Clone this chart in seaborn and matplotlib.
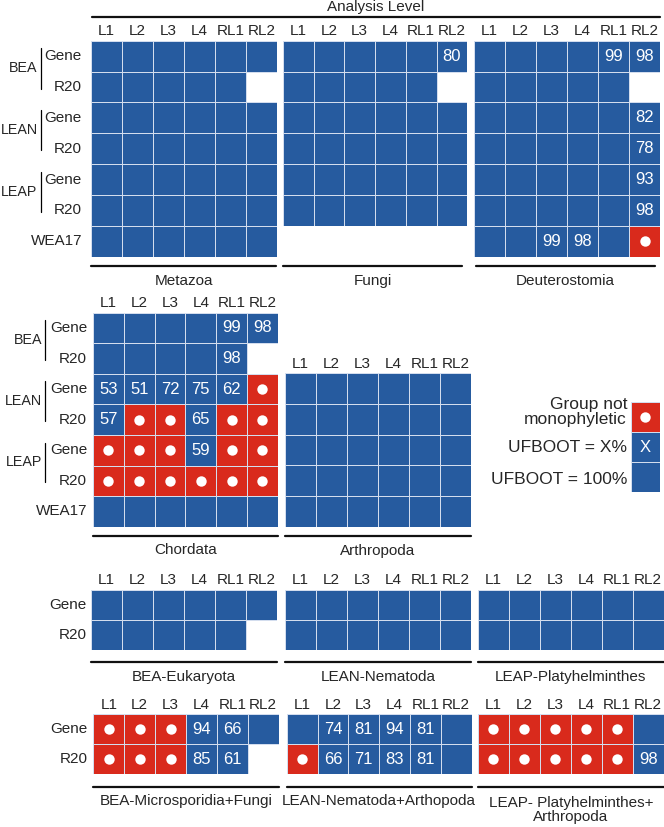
import numpy as np
import matplotlib
matplotlib.use("Agg")
import matplotlib.pyplot as plt
from matplotlib.colors import ListedColormap
from matplotlib.lines import Line2D
import seaborn as sns

sns.set_style("white")
plt.rcParams["font.family"] = ["Liberation Sans", "DejaVu Sans"]

# cell codes: "" = UFBOOT 100, digits = UFBOOT value, "o" = group not monophyletic, None = no result
levels = ["L1", "L2", "L3", "L4", "RL1", "RL2"]
full_rows = ["Gene", "R20", "Gene", "R20", "Gene", "R20", "WEA17"]
pair_rows = ["Gene", "R20"]
groups = ["BEA", "LEAN", "LEAP"]

metazoa = [
    ["", "", "", "", "", ""],
    ["", "", "", "", "", None],
    ["", "", "", "", "", ""],
    ["", "", "", "", "", ""],
    ["", "", "", "", "", ""],
    ["", "", "", "", "", ""],
    ["", "", "", "", "", ""],
]
fungi = [
    ["", "", "", "", "", "80"],
    ["", "", "", "", "", None],
    ["", "", "", "", "", ""],
    ["", "", "", "", "", ""],
    ["", "", "", "", "", ""],
    ["", "", "", "", "", ""],
]
deuterostomia = [
    ["", "", "", "", "99", "98"],
    ["", "", "", "", "", None],
    ["", "", "", "", "", "82"],
    ["", "", "", "", "", "78"],
    ["", "", "", "", "", "93"],
    ["", "", "", "", "", "98"],
    ["", "", "99", "98", "", "o"],
]
chordata = [
    ["", "", "", "", "99", "98"],
    ["", "", "", "", "98", None],
    ["53", "51", "72", "75", "62", "o"],
    ["57", "o", "o", "65", "o", "o"],
    ["o", "o", "o", "59", "o", "o"],
    ["o", "o", "o", "o", "o", "o"],
    ["", "", "", "", "", ""],
]
arthropoda = [
    ["", "", "", "", "", ""],
    ["", "", "", "", "", ""],
    ["", "", "", "", "", ""],
    ["", "", "", "", "", ""],
    ["", "", "", "", "", ""],
]
bea_eukaryota = [["", "", "", "", "", ""], ["", "", "", "", "", None]]
lean_nematoda = [["", "", "", "", "", ""], ["", "", "", "", "", ""]]
leap_platyhelminthes = [["", "", "", "", "", ""], ["", "", "", "", "", ""]]
bea_micro_fungi = [["o", "o", "o", "94", "66", ""], ["o", "o", "o", "85", "61", None]]
lean_nem_arth = [["", "74", "81", "94", "81", ""], ["o", "66", "71", "83", "81", ""]]
leap_platy_arth = [["o", "o", "o", "o", "o", ""], ["o", "o", "o", "o", "o", "98"]]

legend_cells = [["o"], ["X"], [""]]
legend_text = ["Group not\nmonophyletic", "UFBOOT = X%", "UFBOOT = 100%"]

BLUE = "#265b9f"
RED = "#d92a1c"
cmap = ListedColormap([BLUE, RED])

W, H = 664, 827
fig = plt.figure(figsize=(W / 100, H / 100), dpi=100)
fig.patch.set_facecolor("white")


def draw_panel(cells, left, top, rh, cw=31, rows=None, xlabels=levels, pad=5):
    nr, nc = len(cells), len(cells[0])
    ax = fig.add_axes([left / W, 1 - (top + nr * rh) / H, nc * cw / W, nr * rh / H])
    status = np.array([[np.nan if c is None else (2.0 if c == "o" else 1.0) for c in r] for r in cells])
    annot = np.array([["" if c in (None, "o") else c for c in r] for r in cells])
    sns.heatmap(status, ax=ax, mask=np.isnan(status), cmap=cmap, vmin=0.5, vmax=2.5,
                cbar=False, linewidths=0.5, linecolor="#d3ddee",
                annot=annot, fmt="", annot_kws={"color": "white", "fontsize": 12},
                xticklabels=xlabels if xlabels else False,
                yticklabels=rows if rows else False)
    ri, ci = np.where(status == 2)
    ax.scatter(ci + 0.5, ri + 0.5, s=56, color="white", linewidths=0, zorder=3)
    ax.xaxis.tick_top()
    ax.tick_params(length=0, labelsize=11)
    ax.tick_params(axis="x", pad=2, labelrotation=0)
    ax.tick_params(axis="y", pad=pad, labelrotation=0)
    return ax


def add_groups(ax, width_px, text_off, bar_off):
    tr = ax.get_yaxis_transform()
    for g, name in enumerate(groups):
        y0 = 2 * g
        ax.text(-text_off / width_px, y0 + 0.9, name, transform=tr, ha="right",
                va="center", fontsize=10.3)
        ax.plot([-bar_off / width_px] * 2, [y0 + 0.25, y0 + 1.55], transform=tr,
                clip_on=False, color="black", lw=0.9)


def underline(left, right, y, label, dy=14.5, linespacing=0.95):
    fig.add_artist(Line2D([left / W, right / W], [1 - y / H] * 2, color="#111111", lw=1.6))
    fig.text((left + right) / 2 / W, 1 - (y + dy) / H, label, ha="center", va="center",
             fontsize=11, linespacing=linespacing, multialignment="center")


# header
fig.text(376 / W, 1 - 11 / H, "Analysis Level", ha="center", va="baseline", fontsize=11)
fig.add_artist(Line2D([92 / W, 660 / W], [1 - 17.3 / H] * 2, color="#111111", lw=1.6))

# top section
ax = draw_panel(metazoa, 91, 40.7, 30.86, rows=full_rows, pad=6.5)
add_groups(ax, 186, 53.3, 50.3)
draw_panel(fungi, 283, 40.7, 30.86, cw=30.7)
draw_panel(deuterostomia, 474, 40.7, 30.86)
underline(91, 276, 266.3, "Metazoa")
underline(283, 462, 266.3, "Fungi")
underline(476, 655, 266.3, "Deuterostomia")

# middle section
ax = draw_panel(chordata, 93, 312.7, 30.57, cw=30.8, rows=full_rows, pad=4.3)
add_groups(ax, 185, 51, 48.5)
draw_panel(arthropoda, 285, 373.3, 30.68)
underline(93, 278, 536, "Chordata")
underline(285, 471, 536, "Arthropoda")

# legend
lax = draw_panel(legend_cells, 630.7, 401.7, 30.2, cw=29.5, xlabels=None)
for i, txt in enumerate(legend_text):
    yc = [412.2, 448.0, 479.0][i]
    fig.text(627 / W, 1 - yc / H, txt, ha="right", va="center", fontsize=12.5,
             linespacing=1.05, multialignment="right")

# bottom section, first row
draw_panel(bea_eukaryota, 91, 590, 30.0, rows=pair_rows, pad=3)
draw_panel(lean_nematoda, 285, 590, 30.0)
draw_panel(leap_platyhelminthes, 477.7, 590, 30.0)
underline(91, 277, 662.3, "BEA-Eukaryota")
underline(285, 471, 662.3, "LEAN-Nematoda")
underline(477.7, 664, 662.3, "LEAP-Platyhelminthes")

# bottom section, second row
draw_panel(bea_micro_fungi, 93.3, 714.3, 30.0, cw=30.9, rows=pair_rows, pad=4.3)
draw_panel(lean_nem_arth, 286.7, 714.3, 30.0, cw=30.8)
draw_panel(leap_platy_arth, 477.7, 714.3, 30.0)
underline(93.3, 279, 786.7, "BEA-Microsporidia+Fungi")
underline(286.7, 471.7, 786.7, "LEAN-Nematoda+Arthopoda")
underline(477.7, 664, 786.7, "LEAP- Platyhelminthes+\nArthropoda", dy=23.2)

fig.savefig("out.png", dpi=100, facecolor="white")
